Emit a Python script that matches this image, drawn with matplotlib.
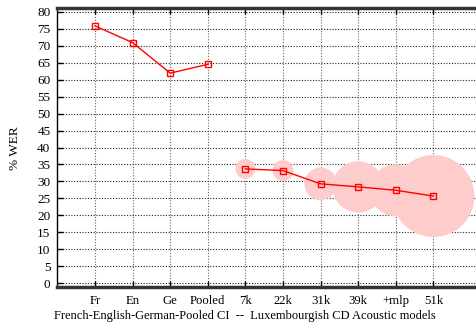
import matplotlib
matplotlib.use("Agg")
import matplotlib.pyplot as plt

categories = ["Fr", "En", "Ge", "Pooled", "7k", "22k", "31k", "39k", "+mlp", "51k"]
wer_ci = [75.8, 70.9, 61.9, 64.5]
wer_cd = [33.7, 33.2, 29.3, 28.4, 27.4, 25.7]
bubble_radius = [10, 10.5, 16.3, 25.7, 26, 41]   # pixels
yticks = list(range(0, 81, 5))
xlabel = "French-English-German-Pooled CI  --  Luxembourgish CD Acoustic models"
ylabel = "% WER"

plt.rcParams['font.family'] = ['Liberation Serif', 'DejaVu Serif']
DPI = 100
W, H = 477, 324
fig = plt.figure(figsize=(W / DPI, H / DPI), dpi=DPI)
ax = fig.add_axes([57.4/W, 1-286.7/H, 1-57.4/W, (286.7-8.3)/H])

x_ci = list(range(1, 5))
x_cd = list(range(5, 11))

# bubbles
sizes = [(2 * r * 72 / DPI) ** 2 for r in bubble_radius]
ax.scatter(x_cd, wer_cd, s=sizes, color="#ffcccc", edgecolors="none", zorder=2)

ax.plot(x_ci, wer_ci, color="#ff0000", lw=1, marker="s", ms=5, mfc="none",
        mec="#ff0000", mew=1, zorder=3)
ax.plot(x_cd, wer_cd, color="#ff0000", lw=1, marker="s", ms=5, mfc="none",
        mec="#ff0000", mew=1, zorder=3)

ax.set_xlim(0, 11.16)
ax.set_ylim(-1, 81)
ax.set_xticks(range(1, 11))
ax.set_xticklabels(categories, fontsize=9.2)
ax.set_yticks(yticks)
ax.set_yticklabels([str(v) for v in yticks], fontsize=9.5)

ax.grid(axis="y", color="#222222", linestyle=(0, (1, 1.5)), lw=0.8, zorder=1)
ax.grid(axis="x", color="#666666", linestyle=(0, (1, 1.5)), lw=0.8, zorder=1)
ax.set_axisbelow(True)

ax.tick_params(direction="in", length=4, width=1, top=True, right=False, colors="black")
ax.tick_params(axis="x", pad=6)
ax.tick_params(axis="y", pad=5)

ax.spines["right"].set_visible(False)
ax.spines["left"].set_linewidth(1)
ax.spines["left"].set_color("black")
ax.spines["bottom"].set_linewidth(2.5)
ax.spines["bottom"].set_color("#333333")
ax.spines["top"].set_linewidth(2.5)
ax.spines["top"].set_color("#333333")

fig.text(245 / W, 1 - 316.5 / H, xlabel, fontsize=9, ha="center", va="center")
fig.text(15 / W, 1 - 148 / H, ylabel, fontsize=9.5, ha="center", va="center",
         rotation=90)

fig.savefig("out.png", dpi=DPI)
